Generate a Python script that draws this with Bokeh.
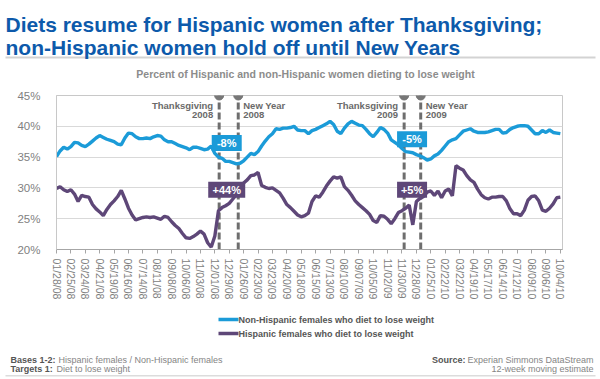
import math
from bokeh.plotting import figure
from bokeh.models import (Range1d, FixedTicker, PrintfTickFormatter, Label)
from bokeh.core.properties import value
from bokeh.embed import file_html
from bokeh.resources import INLINE

# ---------------- data ----------------
tick_labels = ["01/28/08", "02/25/08", "03/24/08", "04/21/08", "05/19/08", "06/16/08",
               "07/14/08", "08/11/08", "09/08/08", "10/06/08", "11/03/08", "12/01/08",
               "12/29/08", "01/26/09", "02/23/09", "03/23/09", "04/20/09", "05/18/09",
               "06/15/09", "07/13/09", "08/10/09", "09/07/09", "10/05/09", "11/02/09",
               "11/30/09", "12/28/09", "01/25/10", "02/22/10", "03/22/10", "04/19/10",
               "05/17/10", "06/14/10", "07/12/10", "08/09/10", "09/06/10", "10/04/10"]

# weekly 12-week moving estimates (%), first week = 01/28/08
non_hispanic = [35.1, 36.0, 36.6, 36.3, 36.7, 37.4, 37.3, 36.9, 36.7, 37.1,
                37.6, 38.1, 38.5, 38.2, 37.9, 37.7, 37.5, 37.1, 37.0, 38.1,
                38.9, 38.8, 38.3, 38.0, 38.0, 38.1, 38.0, 38.3, 38.5, 38.4,
                37.8, 37.5, 37.5, 37.2, 36.9, 36.7, 36.5, 36.2, 36.6, 36.6,
                36.4, 36.2, 36.3, 36.8, 35.6, 35.0, 34.8, 34.3, 34.3, 34.1,
                33.9, 34.0, 34.4, 35.0, 35.6, 35.4, 35.9, 36.8, 37.6, 38.3,
                38.8, 39.6, 39.5, 39.7, 39.7, 39.8, 40.0, 39.4, 39.3, 39.3,
                38.8, 39.3, 39.5, 39.8, 40.1, 40.4, 40.8, 40.3, 39.2, 38.8,
                39.7, 40.4, 40.8, 40.5, 40.2, 40.1, 39.5, 38.8, 38.3, 39.0,
                39.8, 39.5, 38.9, 37.8, 37.4, 37.0, 36.4, 35.9, 35.8, 35.7,
                35.4, 35.2, 34.9, 34.5, 34.7, 35.2, 35.5, 36.1, 36.8, 37.5,
                37.8, 38.0, 38.6, 39.2, 39.4, 39.6, 39.2, 39.0, 39.0, 39.0,
                39.1, 39.3, 39.5, 39.5, 38.9, 39.0, 39.5, 39.8, 40.0, 40.1,
                40.1, 40.0, 39.4, 38.8, 38.8, 39.3, 39.0, 39.4, 39.0, 38.9,
                38.8]

hispanic = [29.9, 30.2, 29.7, 29.4, 29.7, 29.0, 27.8, 28.8, 28.6, 28.5,
            27.3, 26.6, 26.1, 25.5, 26.5, 27.3, 27.9, 28.6, 29.6, 28.2,
            26.7, 25.6, 24.8, 25.0, 25.2, 25.3, 25.2, 25.3, 25.1, 24.9,
            25.4, 25.2, 24.5, 23.9, 23.4, 22.6, 21.9, 21.8, 22.1, 22.5,
            23.0, 22.5, 21.1, 20.4, 22.2, 26.3, 26.8, 27.1, 27.5, 28.2,
            28.9, 30.0, 30.8, 31.3, 32.0, 32.1, 32.5, 30.4, 30.1, 29.9,
            30.0, 29.6, 29.2, 28.3, 27.3, 26.8, 26.2, 25.6, 25.3, 25.5,
            25.9, 27.8, 28.7, 28.5, 29.3, 30.3, 31.1, 31.8, 31.6, 31.8,
            30.2, 29.6, 28.8, 27.9, 27.3, 26.8, 26.3, 25.7, 24.7, 24.4,
            25.5, 25.4, 24.9, 24.2, 25.0, 26.0, 26.3, 26.7, 27.2, 24.0,
            27.8, 28.3, 28.6, 29.3, 29.5, 28.8, 29.5, 28.4, 29.5, 29.8,
            28.7, 33.6, 33.2, 32.9, 32.0, 31.3, 30.9, 29.8, 28.9, 28.4,
            28.2, 28.5, 28.5, 28.6, 28.6, 27.9, 26.6, 25.8, 25.8, 25.5,
            26.4, 28.0, 28.6, 28.7, 27.9, 26.4, 26.2, 26.7, 27.4, 28.4,
            28.5]

weeks = list(range(len(non_hispanic)))

event_names = ["Thanksgiving", "New Year", "Thanksgiving", "New Year"]
event_years = ["2008", "2008", "2009", "2009"]
event_weeks = [45.2, 50.5, 96.6, 101.2]

change_labels = ["-8%", "+44%", "-5%", "+5%"]
change_weeks = [47.3, 47.3, 98.8, 98.8]
change_values = [37.3, 29.7, 37.9, 29.7]

series_names = ["Non-Hispanic females who diet to lose weight",
                "Hispanic females who diet to lose weight"]

title_lines = ["Diets resume for Hispanic women after Thanksgiving;",
               "non-Hispanic women hold off until New Years"]
subtitle = "Percent of Hispanic and non-Hispanic women dieting to lose weight"

# ---------------- style ----------------
FONT = "Liberation Sans"
BLUE = "#1b9bd8"
PURPLE = "#5e4778"
TITLE_BLUE = "#0d5aab"
EVENT_GRAY = "#6e6e6e"
change_colors = [BLUE, PURPLE, BLUE, PURPLE]
series_colors = [BLUE, PURPLE]

W = 600
TOP_H, MAIN_H, BOT_H = 88, 216, 75


def blank(h):
    f = figure(width=W, height=h, x_range=Range1d(0, W), y_range=Range1d(h, 0),
               output_backend="svg", toolbar_location=None,
               x_axis_type=None, y_axis_type=None,
               min_border_left=0, min_border_right=0, min_border_top=0,
               min_border_bottom=0)
    f.grid.visible = False
    f.outline_line_color = None
    return f


def txt(f, s, x, y, size, color, bold=False, align="left", baseline="middle"):
    f.add_layout(Label(x=x, y=y, text=s, text_font=FONT, text_font_size=size,
                       text_font_style="bold" if bold else "normal",
                       text_color=color, text_align=align, text_baseline=baseline))


# ---------------- top: titles ----------------
top = blank(TOP_H)
txt(top, title_lines[0], 5, 24, "21px", TITLE_BLUE, True, baseline="alphabetic")
txt(top, title_lines[1], 5, 47, "21px", TITLE_BLUE, True, baseline="alphabetic")
top.quad(left=[5], right=[595], top=[56], bottom=[58], fill_color="#d3d3d3",
         line_color=None)
txt(top, subtitle, 305, 73, "10.5px", "#8c8c8c", True, "center")

# ---------------- main chart ----------------
p = figure(width=W, height=MAIN_H, output_backend="svg", toolbar_location=None,
           x_range=Range1d(0, 140.6), y_range=Range1d(20, 45),
           min_border_left=56, min_border_right=38, min_border_top=7,
           min_border_bottom=55)
p.outline_line_color = "#c8c8c8"
p.xgrid.visible = False
p.ygrid.grid_line_color = "#d9d9d9"
p.ygrid.ticker = FixedTicker(ticks=[20, 25, 30, 35, 40, 45])

p.yaxis.ticker = FixedTicker(ticks=[20, 25, 30, 35, 40, 45])
p.yaxis.formatter = PrintfTickFormatter(format="%d%%")
p.yaxis.axis_line_color = "#c8c8c8"
p.yaxis.major_tick_line_color = None
p.yaxis.minor_tick_line_color = None
p.yaxis.major_label_text_font = FONT
p.yaxis.major_label_text_font_size = "11.5px"
p.yaxis.major_label_text_color = "#7f7f7f"
p.yaxis.major_label_standoff = 10

p.xaxis.ticker = FixedTicker(ticks=[4 * i for i in range(len(tick_labels))])
p.xaxis.major_label_overrides = {4 * i: t for i, t in enumerate(tick_labels)}
p.xaxis.major_label_orientation = -math.pi / 2
p.xaxis.major_label_text_font = FONT
p.xaxis.major_label_text_font_size = "10.5px"
p.xaxis.major_label_text_color = "#808080"
p.xaxis.axis_line_color = "#a6a6a6"
p.xaxis.major_tick_line_color = "#a6a6a6"
p.xaxis.major_tick_in = 0
p.xaxis.major_tick_out = 4
p.xaxis.minor_tick_line_color = None
p.xaxis.major_label_standoff = 5

n_ev = len(event_weeks)
p.segment(x0=event_weeks, y0=[p.y_range.start] * n_ev, x1=event_weeks,
          y1=[p.y_range.end] * n_ev, line_color=EVENT_GRAY, line_width=3,
          line_dash="7 3")
p.scatter(event_weeks, [p.y_range.end] * n_ev, size=9, color="#777777")

p.line(weeks, non_hispanic, line_width=3.4, color=BLUE)
p.line(weeks, hispanic, line_width=3.4, color=PURPLE)

for name, yr, w in zip(event_names, event_years, event_weeks):
    left = name.startswith("Thanks")
    for s, off in ((name, -10), (yr, -19)):
        p.add_layout(Label(x=w, y=p.y_range.end, text=s,
                           x_offset=-6 if left else 5, y_offset=off,
                           text_align="right" if left else "left",
                           text_baseline="middle", text_font=FONT,
                           text_font_size="9.5px", text_font_style="bold",
                           text_color="#6a6a6a"))

p.rect(x=change_weeks, y=change_values,
       width=[9 + 7 * len(t) for t in change_labels], height=16,
       width_units="screen", height_units="screen",
       fill_color=change_colors, line_color=None)
p.text(x=change_weeks, y=change_values, text=change_labels, text_align="center",
       text_baseline="middle", text_color="white", text_font=value(FONT),
       text_font_size="11px", text_font_style="bold")

# ---------------- bottom: legend and footer ----------------
bot = blank(BOT_H)
leg_y = [15, 29]
bot.segment(x0=[218, 218], y0=leg_y, x1=[238, 238], y1=leg_y,
            line_color=series_colors, line_width=3.5)
for name, y in zip(series_names, leg_y):
    txt(bot, name, 238, y, "9px", "#555555", True)

txt(bot, "Bases 1-2:", 10, 55, "9px", "#555555", True)
txt(bot, "Hispanic females / Non-Hispanic females", 58, 55, "9px", "#858585")
txt(bot, "Targets 1:", 10, 64, "9px", "#555555", True)
txt(bot, "Diet to lose weight", 56, 64, "9px", "#858585")
txt(bot, "Experian Simmons DataStream", 593, 55, "9px", "#858585", align="right")
txt(bot, "Source:", 465, 55, "9px", "#555555", True, align="right")
txt(bot, "12-week moving estimate", 593, 64, "9px", "#858585", align="right")
bot.quad(left=[5], right=[595], top=[70.5], bottom=[72], fill_color="#dcdcdc",
         line_color=None)

open("out.html", "w").write(file_html([top, p, bot], INLINE))
